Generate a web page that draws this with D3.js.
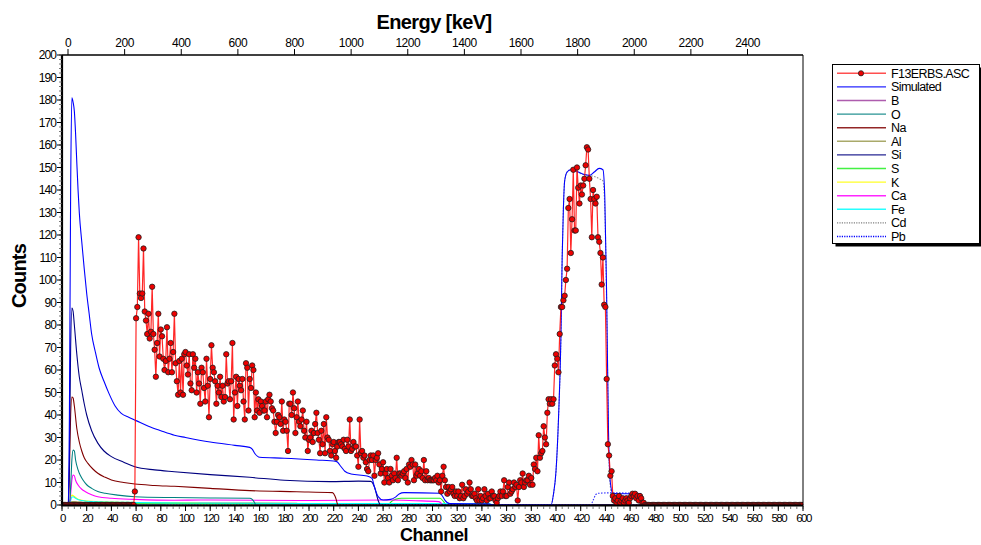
<!DOCTYPE html>
<html><head><meta charset="utf-8">
<script src="https://cdn.jsdelivr.net/npm/d3@7"></script>
<style>
body{margin:0;background:#fff}
svg{display:block}
text{font-family:"Liberation Sans",Arial,sans-serif;fill:#000}
</style>
</head><body>
<svg id="chart" width="981" height="545"></svg>
<script>
// ---- measured spectrum F13ERBS.ASC, counts per channel 0..600 ----
const expCounts = [
0,0,0,0,0,0,0,0,0,0, 0,0,0,0,0,0,0,0,0,0, 0,0,0,0,0,0,0,0,0,0, 0,0,0,0,0,0,0,0,0,0, 0,0,0,0,0,0,0,0,0,0,
0,0,0,0,0,0,0,0,0,6,
83,88,119,94,92,94,114,86,82,76,
85,74,77,97,76,69,57,72,85,66,
78,75,65,60,64,79,59,65,72,59,
68,85,63,55,49,64,50,65,49,67,
68,62,58,67,54,51,67,61,65,50,
59,54,45,61,59,52,46,65,53,39,
56,71,61,59,55,45,53,50,57,48,
53,46,48,67,54,55,47,55,72,38,
50,57,44,56,53,51,56,46,38,63,
61,42,56,52,62,60,39,50,42,47,
41,46,44,42,42,46,39,47,49,46,
43,42,37,32,37,40,39,36,46,33,
38,37,33,24,45,45,40,50,43,32,
39,46,37,35,38,42,33,30,37,24,
29,30,33,28,32,36,41,32,29,23,
33,27,36,23,39,30,29,24,22,27,
28,24,21,26,28,28,27,26,29,25,
24,29,26,38,24,25,28,26,26,22,
17,38,23,24,21,22,19,16,15,20,
22,20,22,13,20,21,23,18,14,16,
19,10,14,16,12,10,16,13,11,14,
12,21,11,14,14,13,14,15,12,16,
10,18,17,20,18,11,18,13,14,16,
13,15,12,20,11,15,11,12,11,11,
11,11,12,11,13,10,11,6,13,17,
11,8,5,8,6,7,8,5,4,6,
4,6,3,4,9,3,4,7,5,6,
10,7,4,4,5,3,2,7,2,4,
2,3,7,4,2,5,3,3,6,4,
4,2,1,3,4,6,4,6,11,4,
4,8,10,5,6,7,10,8,9,2,
8,11,10,14,8,10,11,11,13,9,
12,9,18,16,21,15,31,21,23,24,
35,30,27,41,47,45,47,45,47,62,
67,65,59,76,88,88,91,93,100,105,
132,136,112,127,149,122,122,150,141,134,
142,138,142,145,151,159,158,145,136,119,
140,136,134,137,119,117,112,98,110,89,
88,56,27,22,13,15,4,2,3,1,
2,4,1,2,3,1,2,3,2,1,
3,4,5,4,5,3,4,2,4,3,
1,1,0,0,0,0,0,0,0,0,
0,0,0,0,0,0,0,0,0,0, 0,0,0,0,0,0,0,0,0,0, 0,0,0,0,0,0,0,0,0,0, 0,0,0,0,0,0,0,0,0,0,
0,0,0,0,0,0,0,0,0,0, 0,0,0,0,0,0,0,0,0,0, 0,0,0,0,0,0,0,0,0,0, 0,0,0,0,0,0,0,0,0,0,
0,0,0,0,0,0,0,0,0,0, 0,0,0,0,0,0,0,0,0,0, 0,0,0,0,0,0,0,0,0,0, 0,0,0,0,0,0,0,0,0,0,
0
];

// ---- simulated curves: [channel, counts] ----
const simTotal = [[0,0],[5,0],[6,40],[7,140],[8,181],[9,179],[10,175],[11,165],[12,152],[13,140],[14,130],[16,117],[18,105],[20,94],[22,85],[24,76],[27,68],[30,61],[34,55],[38,49.6],[43,44],[48,40.7],[54,39],[60,37.5],[70,35],[80,33],[91,31],[100,30],[120,28],[140,26.5],[152,25.6],[154,24.8],[156,23],[160,21.2],[180,20.8],[206,20],[222,19.4],[226,17],[229,15],[234,13.8],[247,12.9],[251,11.8],[253,8],[256,3.7],[260,2.2],[266,2.5],[270,3.5],[273,4.9],[277,5.5],[306,5.2],[308,4],[310,2.2],[314,0.6],[345,0.5],[350,0],[396,0],[398,5],[400,15],[402,38],[404,75],[405,110],[406,132],[407,144],[409,148],[412,149],[416,148.5],[422,147],[427,146.5],[431,148],[435,149.6],[438,149],[439.5,137],[441,93],[442.5,33],[444,10],[446,5.2],[450,5],[468,5],[470,3],[472,0],[600,0]];
const simB  = [[0,0],[6,0],[8,0.6],[40,0.4],[80,0.3],[85,0],[600,0]];
const simO  = [[0,0],[6,0],[7,8],[8,20],[9,24.4],[10,24],[11,20],[13,15.6],[15,13],[17,11.1],[20,9],[24,7.4],[29,6],[35,5.2],[45,4.4],[59,3.7],[90,3.3],[120,3.1],[152,3],[154,2.5],[156,1],[157,0],[600,0]];
const simNa = [[0,0],[5,0],[6,15],[7,40],[8,48],[9,47.5],[10,44],[12,34],[14,28],[16,24],[18,21],[21,18.5],[25,16],[29,14.1],[35,12.3],[40,11.1],[50,10],[59,9.3],[75,8.7],[91,8.3],[120,7.4],[152,6.4],[190,5.9],[219,5.5],[221,4],[222,2.5],[223,0.5],[224,0],[600,0]];
const simAl = [[0,0],[6,0],[8,1.5],[20,1.2],[60,1],[190,0.8],[193,0],[600,0]];
const simSi = [[0,0],[5,0],[6,20],[7,70],[8,87.5],[9,86],[10,80],[12,67],[14,57],[16,51],[18,45],[20,40],[24,33],[29,27.5],[34,24],[40,21.5],[50,19],[59,17],[75,15.6],[91,14.8],[120,13.5],[152,12.3],[180,11],[217,10.4],[240,10.6],[250,10.5],[253,8],[256,2],[258,0],[600,0]];
const simS  = [[0,0],[6,0],[8,0.8],[30,0.6],[100,0.5],[265,0.5],[266,1.2],[270,2.5],[275,3],[306,3],[309,1.5],[311,0],[600,0]];
const simK  = [[0,0],[6,0],[7,3],[8,4.4],[10,3.8],[13,2.6],[20,1.8],[40,1.3],[80,1],[110,0.9],[113,0],[600,0]];
const simCa = [[0,0],[6,0],[7,5],[8,11],[9,13.3],[10,13],[11,11],[13,8.9],[16,7],[19,5.9],[24,4.6],[29,3.7],[40,3],[59,2.5],[91,2.1],[112,2.2],[200,2],[265,2.2],[286,1.9],[305,1.5],[307,0.8],[308,0],[600,0]];
const simFe = [[0,0],[6,0],[7,2],[8,3.5],[9,3.7],[11,3],[14,2.2],[20,1.7],[30,1.4],[60,1.1],[100,0.9],[200,0.7],[300,0.6],[346,0.5],[350,0],[600,0]];
const simCd = [[0,0],[396,0],[398,5],[400,15],[402,38],[404,75],[405,110],[406,132],[407,144],[409,148],[412,149],[416,148],[422,147],[427,146.5],[431,146],[435,145],[438,144],[439.5,132],[441,90],[442.5,30],[444,8],[446,2],[448,0],[600,0]];
const simPb = [[0,0],[428,0],[430,2],[432,4.5],[434,5.2],[444,5.4],[468,5.2],[470,3],[472,0],[600,0]];

// ---- tick labels ----
const countTicks   = [0,10,20,30,40,50,60,70,80,90,100,110,120,130,140,150,160,170,180,190,200];
const channelTicks = [0,20,40,60,80,100,120,140,160,180,200,220,240,260,280,300,320,340,360,380,400,420,440,460,480,500,520,540,560,580,600];
const energyTicks  = [0,200,400,600,800,1000,1200,1400,1600,1800,2000,2200,2400];

const legendNames  = ["F13ERBS.ASC","Simulated","B","O","Na","Al","Si","S","K","Ca","Fe","Cd","Pb"];
const legendColors = ["#ff3030","#0000ff","#a040a0","#008080","#800000","#9a9a50","#000080","#22ee22","#ffff00","#ff00ff","#00ffff","#808080","#0000ff"];

const simSeries = [
  {data: simB,  color:"#a040a0", dash:null},
  {data: simAl, color:"#9a9a50", dash:null},
  {data: simK,  color:"#ffff00", dash:null},
  {data: simS,  color:"#22ee22", dash:null},
  {data: simFe, color:"#00ffff", dash:null},
  {data: simCa, color:"#ff00ff", dash:null},
  {data: simO,  color:"#008080", dash:null},
  {data: simNa, color:"#800000", dash:null},
  {data: simSi, color:"#000080", dash:null},
  {data: simCd, color:"#909090", dash:"1.5,1.5"},
  {data: simPb, color:"#3030ff", dash:"1.5,1.5"},
  {data: simTotal, color:"#0000ff", dash:null}
];

const L = 62, R = 803, T = 55, B = 505;
const svg = d3.select("#chart");
const x = d3.scaleLinear().domain([0,600]).range([L,R]);
const y = d3.scaleLinear().domain([0,200]).range([B,T]);
const e = d3.scaleLinear().domain([0,2400]).range([68,747.5]);

svg.append("defs").append("clipPath").attr("id","clip")
  .append("rect").attr("x",L).attr("y",T).attr("width",R-L).attr("height",B-T+0.5);

const plot = svg.append("g").attr("clip-path","url(#clip)");

const lineP = d3.line().x(d=>x(d[0])).y(d=>y(d[1])).curve(d3.curveMonotoneX);
simSeries.forEach(s=>{
  plot.append("path").attr("d",lineP(s.data)).attr("fill","none")
    .attr("stroke",s.color).attr("stroke-width",1.1)
    .attr("stroke-dasharray",s.dash);
});

const lineE = d3.line().x((d,i)=>x(i)).y(d=>y(d));
plot.append("path").attr("d",lineE(expCounts)).attr("fill","none")
  .attr("stroke","#ff0000").attr("stroke-width",1.2).attr("stroke-opacity",0.85);
plot.append("g").selectAll("circle").data(expCounts).join("circle")
  .attr("cx",(d,i)=>x(i)).attr("cy",d=>y(d)).attr("r",2.7)
  .attr("fill","#ee0000").attr("stroke","#202020").attr("stroke-width",0.8);

// frame
svg.append("line").attr("x1",L).attr("x2",R).attr("y1",T).attr("y2",T).attr("stroke","#000").attr("stroke-width",1.5);
svg.append("line").attr("x1",R).attr("x2",R).attr("y1",T).attr("y2",B).attr("stroke","#000").attr("stroke-width",1);
svg.append("line").attr("x1",L).attr("x2",L).attr("y1",T).attr("y2",B+1).attr("stroke","#000").attr("stroke-width",2.2);
svg.append("line").attr("x1",L-1).attr("x2",R+0.5).attr("y1",B+0.5).attr("y2",B+0.5).attr("stroke","#000").attr("stroke-width",2.2);

// left axis
const gy = svg.append("g");
gy.selectAll("line.mi").data(d3.range(0,201,2)).join("line")
  .attr("x1",L-3).attr("x2",L).attr("y1",d=>y(d)).attr("y2",d=>y(d))
  .attr("stroke","#555").attr("stroke-width",0.8);
gy.selectAll("line.ma").data(countTicks).join("line")
  .attr("x1",L-5).attr("x2",L).attr("y1",d=>y(d)).attr("y2",d=>y(d))
  .attr("stroke","#000").attr("stroke-width",1);
gy.selectAll("text").data(countTicks).join("text")
  .attr("x",L-6).attr("y",d=>y(d)).attr("dy","0.36em").attr("text-anchor","end")
  .attr("font-size",12).attr("letter-spacing","-0.9px").text(d=>d);

// bottom axis
const gx = svg.append("g");
gx.selectAll("line.mi").data(d3.range(0,601,5)).join("line")
  .attr("x1",d=>x(d)).attr("x2",d=>x(d)).attr("y1",B+1).attr("y2",B+4)
  .attr("stroke","#555").attr("stroke-width",0.8);
gx.selectAll("line.ma").data(channelTicks).join("line")
  .attr("x1",d=>x(d)).attr("x2",d=>x(d)).attr("y1",B+1).attr("y2",B+6)
  .attr("stroke","#000").attr("stroke-width",1);
gx.selectAll("text").data(channelTicks).join("text")
  .attr("x",d=>x(d)+0.5).attr("y",B+17).attr("text-anchor","middle")
  .attr("font-size",11.5).attr("letter-spacing","-1.5px").text(d=>d);

// top axis (energy)
const ge = svg.append("g");
ge.selectAll("line").data(energyTicks).join("line")
  .attr("x1",d=>e(d)).attr("x2",d=>e(d)).attr("y1",T).attr("y2",T-6)
  .attr("stroke","#000").attr("stroke-width",1);
ge.selectAll("text").data(energyTicks).join("text")
  .attr("x",d=>e(d)).attr("y",T-8).attr("text-anchor","middle")
  .attr("font-size",12).attr("letter-spacing","-0.5px").text(d=>d);

// titles
svg.append("text").attr("x",434).attr("y",29).attr("text-anchor","middle")
  .attr("font-size",20).attr("font-weight","bold").attr("letter-spacing","-0.6px").text("Energy [keV]");
svg.append("text").attr("x",434).attr("y",541).attr("text-anchor","middle")
  .attr("font-size",18).attr("font-weight","bold").attr("letter-spacing","-0.4px").text("Channel");
svg.append("text").attr("transform","translate(26,276) rotate(-90)").attr("text-anchor","middle")
  .attr("font-size",20).attr("font-weight","bold").attr("letter-spacing","-0.8px").text("Counts");

// legend
const lg = svg.append("g");
const lx = 832.5, ly = 64.5, lw = 147, lh = 179;
lg.append("rect").attr("x",lx+3).attr("y",ly+3).attr("width",lw).attr("height",lh).attr("fill","#000");
lg.append("rect").attr("x",lx).attr("y",ly).attr("width",lw).attr("height",lh).attr("fill","#fff").attr("stroke","#000").attr("stroke-width",1);
legendNames.forEach((n,i)=>{
  const yy = 73.3 + i*13.6;
  const dash = (n==="Cd"||n==="Pb") ? "1.2,1.2" : null;
  lg.append("line").attr("x1",837).attr("x2",886).attr("y1",yy).attr("y2",yy)
    .attr("stroke",legendColors[i]).attr("stroke-width",n==="F13ERBS.ASC"?1.6:1.4)
    .attr("stroke-opacity",(dash? 1 : 0.85)).attr("stroke-dasharray",dash);
  if(i===0){
    lg.append("circle").attr("cx",861).attr("cy",yy).attr("r",2.6).attr("fill","#ee0000").attr("stroke","#202020").attr("stroke-width",0.8);
  }
  lg.append("text").attr("x",891).attr("y",yy).attr("dy","0.36em")
    .attr("font-size",12.5).attr("letter-spacing","-0.6px").text(n);
});
</script>
</body></html>
